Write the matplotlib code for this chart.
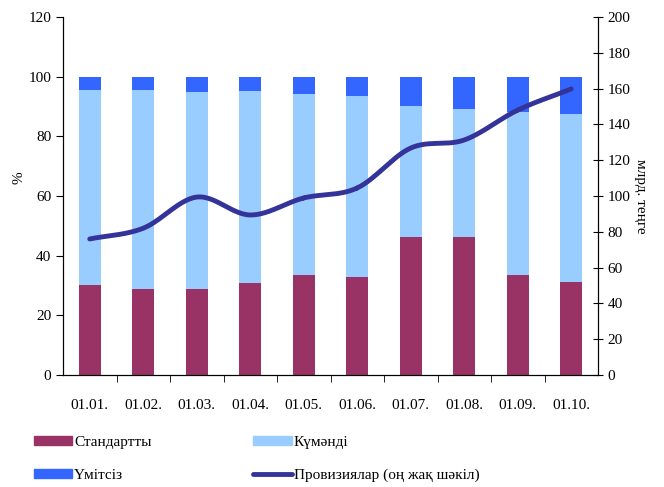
import matplotlib.pyplot as plt
import numpy as np
from matplotlib.patches import Patch
from matplotlib.lines import Line2D

dates = ["01.01.", "01.02.", "01.03.", "01.04.", "01.05.", "01.06.", "01.07.", "01.08.", "01.09.", "01.10."]
standard = [30.2, 28.8, 28.8, 30.8, 33.5, 32.9, 46.3, 46.3, 33.5, 31.2]
doubtful = [65.3, 66.7, 66.1, 64.4, 60.7, 60.6, 43.9, 42.9, 54.7, 56.3]
hopeless = [4.5, 4.5, 5.1, 4.8, 5.8, 6.5, 9.8, 10.8, 11.8, 12.5]
provisions = [76, 82, 99.4, 89.4, 98.9, 104.5, 126.8, 131.3, 148, 159.8]

c_std = "#993366"
c_doubt = "#99CCFF"
c_hope = "#3366FF"
c_line = "#333399"

plt.rcParams["font.family"] = ["Liberation Serif", "DejaVu Serif"]
plt.rcParams["font.size"] = 11


def smooth(x, y, n=30):
    # catmull-rom, roughly what excel does for "smoothed line"
    x = np.asarray(x, float)
    y = np.asarray(y, float)
    px = np.concatenate([[2 * x[0] - x[1]], x, [2 * x[-1] - x[-2]]])
    py = np.concatenate([[2 * y[0] - y[1]], y, [2 * y[-1] - y[-2]]])
    xs, ys = [], []
    t = np.linspace(0, 1, n)
    for i in range(1, len(px) - 2):
        for p, out in ((px, xs), (py, ys)):
            p0, p1, p2, p3 = p[i - 1], p[i], p[i + 1], p[i + 2]
            out.extend(0.5 * ((2 * p1) + (-p0 + p2) * t
                              + (2 * p0 - 5 * p1 + 4 * p2 - p3) * t ** 2
                              + (-p0 + 3 * p1 - 3 * p2 + p3) * t ** 3))
    return np.array(xs), np.array(ys)


fig = plt.figure(figsize=(6.64, 4.87), dpi=100)
ax = fig.add_axes([63 / 664, 112 / 487, 535 / 664, 358 / 487])

x = np.arange(len(dates))
w = 0.41
std = np.array(standard)
dbt = np.array(doubtful)
ax.bar(x, std, w, color=c_std, label="Стандартты")
ax.bar(x, dbt, w, bottom=std, color=c_doubt, label="Күмәнді")
ax.bar(x, hopeless, w, bottom=std + dbt, color=c_hope, label="Үмітсіз")

ax.set_xlim(-0.5, len(dates) - 0.5)
ax.set_ylim(0, 120)
ax.set_yticks(range(0, 121, 20))
ax.set_xticks(x)
ax.set_xticklabels(dates)
ax.set_xticks(np.arange(0.5, len(dates) - 0.5, 1), minor=True)
ax.tick_params(axis="x", which="major", length=0, pad=17)
ax.tick_params(axis="x", which="minor", length=5, direction="out")
ax.tick_params(axis="y", length=5, direction="out")
ax.spines["top"].set_visible(False)
ax.set_ylabel("%", labelpad=1)
ax.yaxis.set_label_coords(-0.07, 0.55)

ax2 = ax.twinx()
sx, sy = smooth(x, provisions)
ax2.plot(sx, sy, color=c_line, lw=3.5, solid_capstyle="round")
ax2.set_ylim(0, 200)
ax2.set_yticks(range(0, 201, 20))
ax2.tick_params(axis="y", length=7, direction="inout")
ax2.spines["top"].set_visible(False)
ax2.set_ylabel("млрд. теңге", rotation=-90, labelpad=12)

handles = [Patch(color=c_std), Patch(color=c_hope), Patch(color=c_doubt),
           Line2D([], [], color=c_line, lw=3.5, solid_capstyle="round")]
labels = ["Стандартты", "Үмітсіз", "Күмәнді", "Провизиялар (оң жақ шәкіл)"]
fig.legend(handles, labels, ncol=2, loc="upper left", bbox_to_anchor=(20 / 664, 1 - 422 / 487),
           frameon=False, handlelength=2.5, handleheight=0.5, handletextpad=0.15,
           labelspacing=1.3, columnspacing=6.65)

fig.savefig("out.png", dpi=100)
